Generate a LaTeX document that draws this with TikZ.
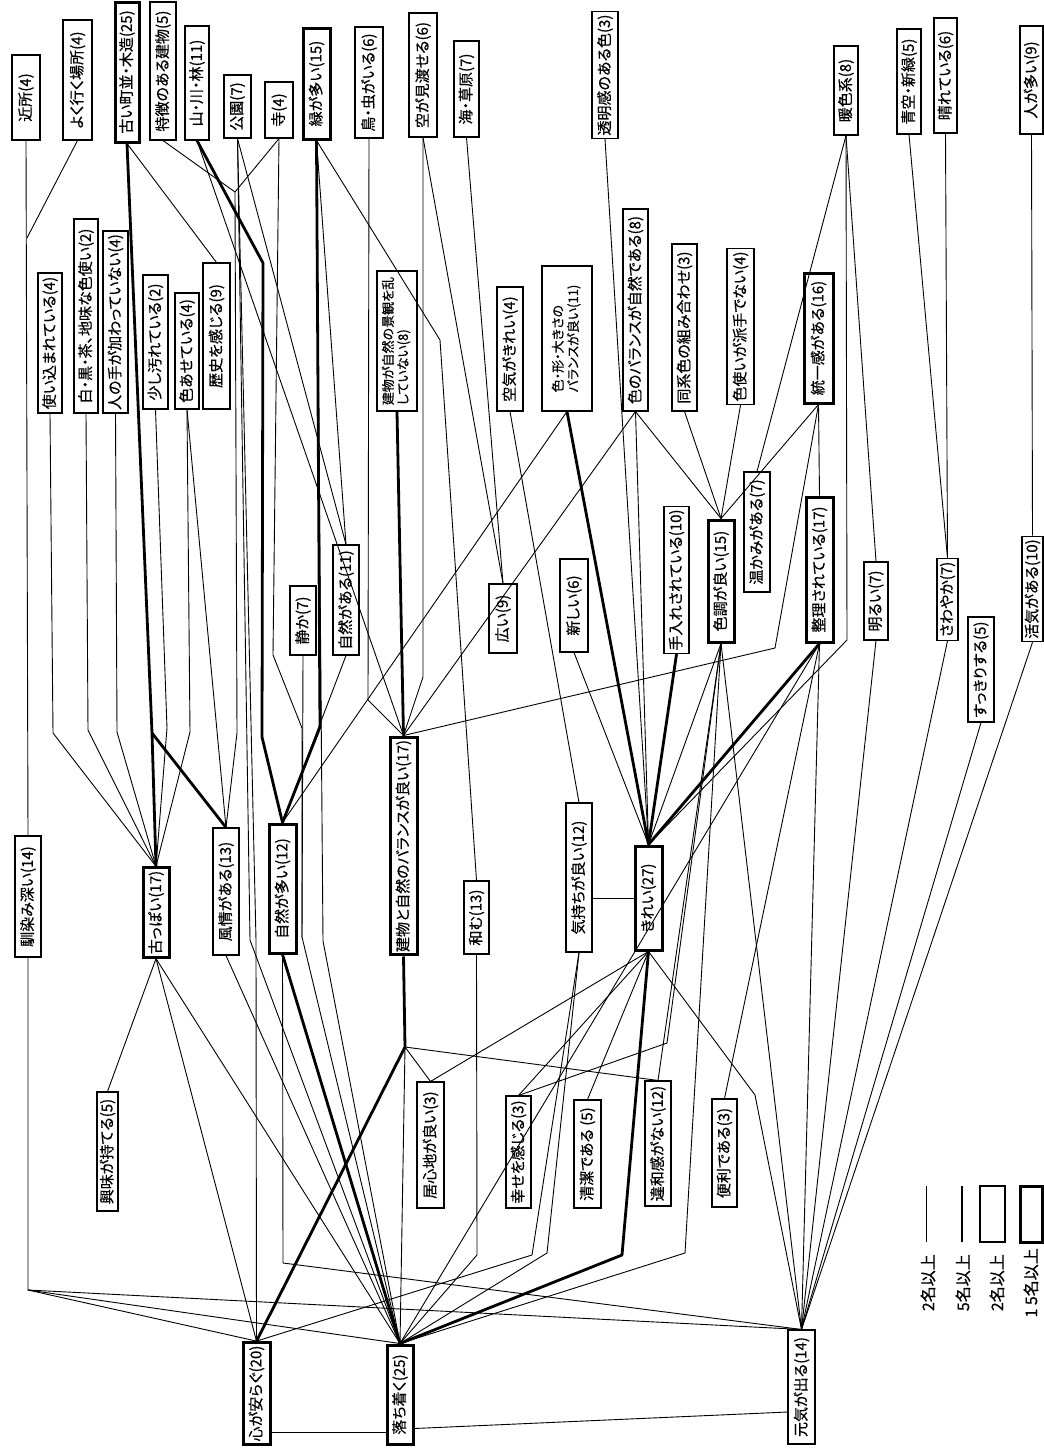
\documentclass[tikz,border=0pt]{standalone}
\usepackage{fontspec}
\usepackage{graphicx}
\newfontfamily\jpf{Noto Sans CJK JP}[RawFeature=+palt, FakeBold=0.5]
\newcommand{\two}[2]{\renewcommand{\arraystretch}{0.95}\begin{tabular}{@{}l@{}}#1\\#2\end{tabular}}
\begin{document}
\begin{tikzpicture}[x=1pt,y=-1pt,
  bx/.style={draw, line width=1.1pt, fill=white, inner xsep=0pt, inner ysep=3pt, font=\jpf\fontsize{15}{17}\selectfont},
  bk/.style={bx, line width=3pt},
  bs/.style={bx, font=\jpf\fontsize{13}{15}\selectfont},
  ln/.style={line width=0.9pt, line join=round},
  tk/.style={line width=2.8pt, line join=round},
  lg/.style={inner sep=0pt, font=\jpf\fontsize{16}{18}\selectfont},
]
\fill[white] (0,0) rectangle (1044,1451);
\useasboundingbox (0,0) rectangle (1044,1451);

% ---------- top row ----------
\node[bx,minimum width=28pt,minimum height=85pt] (kinjo) at (26,97.5) {\rotatebox{90}{近所(4)}};
\node[bx,minimum width=29pt,minimum height=120pt] (yoku) at (77.5,80) {\rotatebox{90}{よく行く場所(4)}};
\node[bk,minimum width=24pt,minimum height=140pt] (machi) at (127,72) {\rotatebox{90}{古い町並・木造(25)}};
\node[bx,minimum width=26pt,minimum height=138pt] (tokucho) at (163,71) {\rotatebox{90}{特徴のある建物(5)}};
\node[bx,minimum width=24pt,minimum height=114pt] (yama) at (197,83) {\rotatebox{90}{山・川・林(11)}};
\node[bx,minimum width=27pt,minimum height=63pt] (koen) at (237.5,106.5) {\rotatebox{90}{公園(7)}};
\node[bx,minimum width=28pt,minimum height=56pt] (tera) at (279,110) {\rotatebox{90}{寺(4)}};
\node[bk,minimum width=27pt,minimum height=111pt] (midori) at (316.5,83.5) {\rotatebox{90}{緑が多い(15)}};
\node[bx,minimum width=28pt,minimum height=111pt] (tori) at (369,82.5) {\rotatebox{90}{鳥・虫がいる(6)}};
\node[bx,minimum width=28pt,minimum height=124pt] (sora) at (423,75) {\rotatebox{90}{空が見渡せる(6)}};
\node[bx,minimum width=25pt,minimum height=96pt] (umi) at (466.5,89) {\rotatebox{90}{海・草原(7)}};
\node[bx,minimum width=26pt,minimum height=124pt] (tomei) at (605,75) {\rotatebox{90}{透明感のある色(3)}};
\node[bx,minimum width=24pt,minimum height=89pt] (danshoku) at (846,90.5) {\rotatebox{90}{暖色系(8)}};
\node[bx,minimum width=24pt,minimum height=105pt] (aozora) at (909,81.5) {\rotatebox{90}{青空・新緑(5)}};
\node[bx,minimum width=23pt,minimum height=115pt] (hare) at (945.5,75.5) {\rotatebox{90}{晴れている(6)}};
\node[bx,minimum width=23pt,minimum height=108pt] (hito) at (1031.5,80) {\rotatebox{90}{人が多い(9)}};

% ---------- second row ----------
\node[bx,minimum width=24pt,minimum height=140pt] (tsukai) at (50,343) {\rotatebox{90}{使い込まれている(4)}};
\node[bx,minimum width=24pt,minimum height=194pt] (shiro) at (86,316) {\rotatebox{90}{白・黒・茶、地味な色使い(2)}};
\node[bx,minimum width=25pt,minimum height=182pt] (hitonote) at (115.5,322) {\rotatebox{90}{人の手が加わっていない(4)}};
\node[bx,minimum width=25pt,minimum height=134pt] (yogore) at (155.5,342) {\rotatebox{90}{少し汚れている(2)}};
\node[bx,minimum width=24pt,minimum height=116pt] (iroase) at (187,351) {\rotatebox{90}{色あせている(4)}};
\node[bx,minimum width=27pt,minimum height=146pt] (rekishi) at (216.5,336) {\rotatebox{90}{歴史を感じる(9)}};
\node[bs,minimum width=40pt,minimum height=140pt] (midasanai) at (397,341) {\rotatebox{90}{\two{建物が自然の景観を乱}{していない(8)}}};
\node[bx,minimum width=26pt,minimum height=124pt] (kuki) at (510,349) {\rotatebox{90}{空気がきれい(4)}};
\node[bs,minimum width=50pt,minimum height=145pt] (irokatachi) at (567,338.5) {\rotatebox{90}{\two{色・形・大きさの}{バランスが良い(11)}}};
\node[bx,minimum width=25pt,minimum height=202pt] (irobalance) at (635.5,310) {\rotatebox{90}{色のバランスが自然である(8)}};
\node[bx,minimum width=25pt,minimum height=167pt] (doukei) at (684.5,327.5) {\rotatebox{90}{同系色の組み合わせ(3)}};
\node[bx,minimum width=27pt,minimum height=153pt] (hade) at (740.5,326.5) {\rotatebox{90}{色使いが派手でない(4)}};
\node[bk,minimum width=29pt,minimum height=130pt] (touitsu) at (818.5,338) {\rotatebox{90}{統一感がある(16)}};

% ---------- third row ----------
\node[bx,minimum width=26pt,minimum height=69pt] (shizuka) at (303,620.5) {\rotatebox{90}{静か(7)}};
\node[bx,minimum width=26pt,minimum height=110pt] (shizengaaru) at (346,600) {\rotatebox{90}{自然がある(11)}};
\node[bx,minimum width=28pt,minimum height=69pt] (hiroi) at (503,618.5) {\rotatebox{90}{広い(9)}};
\node[bx,minimum width=28pt,minimum height=93pt] (atarashii) at (574,605.5) {\rotatebox{90}{新しい(6)}};
\node[bx,minimum width=25pt,minimum height=144pt] (teire) at (676.5,580) {\rotatebox{90}{手入れされている(10)}};
\node[bk,minimum width=26pt,minimum height=122pt] (shikicho) at (721,581) {\rotatebox{90}{色調が良い(15)}};
\node[bx,minimum width=26pt,minimum height=120pt] (atatakami) at (757,532) {\rotatebox{90}{温かみがある(7)}};
\node[bk,minimum width=27pt,minimum height=145pt] (seiri) at (819.5,569.5) {\rotatebox{90}{整理されている(17)}};
\node[bx,minimum width=24pt,minimum height=78pt] (akarui) at (876,601) {\rotatebox{90}{明るい(7)}};
\node[bx,minimum width=21pt,minimum height=81pt] (sawayaka) at (947.5,599.5) {\rotatebox{90}{さわやか(7)}};
\node[bx,minimum width=26pt,minimum height=105pt] (sukkiri) at (981,669.5) {\rotatebox{90}{すっきりする(5)}};
\node[bx,minimum width=21pt,minimum height=100pt] (kakki) at (1032.5,589) {\rotatebox{90}{活気がある(10)}};

% ---------- fourth row ----------
\node[bx,minimum width=26pt,minimum height=121pt] (najimi) at (28,896.5) {\rotatebox{90}{馴染み深い(14)}};
\node[bk,minimum width=26pt,minimum height=89pt] (furuppoi) at (156,912.5) {\rotatebox{90}{古っぽい(17)}};
\node[bx,minimum width=26pt,minimum height=127pt] (fuzei) at (226,891.5) {\rotatebox{90}{風情がある(13)}};
\node[bk,minimum width=27pt,minimum height=129pt] (shizengaooi) at (282.5,888.5) {\rotatebox{90}{自然が多い(12)}};
\node[bk,minimum width=27pt,minimum height=216pt] (balance) at (403.5,846) {\rotatebox{90}{建物と自然のバランスが良い(17)}};
\node[bx,minimum width=25pt,minimum height=73pt] (nagomu) at (476.5,917.5) {\rotatebox{90}{和む(13)}};
\node[bx,minimum width=26pt,minimum height=149pt] (kimochi) at (579,877.5) {\rotatebox{90}{気持ちが良い(12)}};
\node[bk,minimum width=27pt,minimum height=104pt] (kirei) at (648.5,898) {\rotatebox{90}{きれい(27)}};

% ---------- fifth row ----------
\node[bx,minimum width=21pt,minimum height=119pt] (kyomi) at (107.5,1151.5) {\rotatebox{90}{興味が持てる(5)}};
\node[bx,minimum width=27pt,minimum height=126pt] (igokochi) at (430.5,1145) {\rotatebox{90}{居心地が良い(3)}};
\node[bx,minimum width=25pt,minimum height=112pt] (shiawase) at (518.5,1152) {\rotatebox{90}{幸せを感じる(3)}};
\node[bx,minimum width=27pt,minimum height=108pt] (seiketsu) at (587.5,1154) {\rotatebox{90}{清潔である (5)}};
\node[bx,minimum width=26pt,minimum height=125pt] (iwakan) at (658,1143.5) {\rotatebox{90}{違和感がない(12)}};
\node[bx,minimum width=25pt,minimum height=108pt] (benri) at (724.5,1153) {\rotatebox{90}{便利である(3)}};

% ---------- bottom row ----------
\node[bk,minimum width=27pt,minimum height=101pt] (kokoro) at (256.5,1393.5) {\rotatebox{90}{心が安らぐ(20)}};
\node[bk,minimum width=26pt,minimum height=99pt] (ochitsuku) at (400,1394.5) {\rotatebox{90}{落ち着く(25)}};
\node[bx,minimum width=27pt,minimum height=114pt] (genki) at (801.5,1387) {\rotatebox{90}{元気が出る(14)}};

% ---------- junctions ----------
\coordinate (j0) at (27,238);
\coordinate (j1) at (28,1290);
\coordinate (j2) at (235,192);
\coordinate (j3) at (405,1047);

% ---------- connectors ----------
\draw[ln] (kinjo.south) -- (najimi.north);
\draw[ln] (yoku.south) -- (j0);
\draw[ln] (najimi.south) -- (j1) -- (kokoro.north);
\draw[ln] (j1) -- (ochitsuku.north);
\draw[ln] (j1) -- (genki.north);

\draw[ln] (tsukai.south) -- (53,733) -- (furuppoi.north);
\draw[ln] (shiro.south) -- (88,730) -- (furuppoi.north);
\draw[ln] (hitonote.south) -- (117,732) -- (furuppoi.north);
\draw[tk] (machi.south) -- (152,733) -- (furuppoi.north);
\draw[tk] (152,733) -- (fuzei.north);
\draw[ln] (machi.south) -- (rekishi.north);
\draw[ln] (yogore.south) -- (167,728) -- (furuppoi.north);
\draw[ln] (iroase.south) -- (190,732) -- (furuppoi.north);
\draw[ln] (iroase.south) -- (fuzei.north);
\draw[ln] (tokucho.south) -- (j2);
\draw[ln] (tera.south) -- (j2);
\draw[ln] (j2) -- (237,733) -- (fuzei.north);
\draw[ln] (koen.south) -- (shizengaaru.north);
\draw[ln] (koen.south) -- (256,940) -- (kokoro.north);
\draw[ln] (koen.south) -- (250,940) -- (ochitsuku.north);
\draw[tk] (yama.south) -- (263,263) -- (262,737) -- (shizengaooi.north);
\draw[ln] (yama.south) -- (balance.north);
\draw[ln] (tera.south) -- (273,655) -- (302,728) -- (302,937) -- (ochitsuku.north);
\draw[ln] (shizuka.south) -- (302,937);
\draw[tk] (midori.south) -- (320,727) -- (shizengaooi.north);
\draw[ln] (midori.south) -- (323,941) -- (ochitsuku.north);
\draw[ln] (midori.south) -- (shizengaaru.north);
\draw[ln] (midori.south) -- (440,340) -- (nagomu.north);
\draw[ln] (shizengaaru.south) -- (shizengaooi.north);

\draw[tk] (midasanai.south) -- (balance.north);
\draw[ln] (tori.south) -- (368,700) -- (balance.north);
\draw[ln] (sora.south) -- (423,677) -- (balance.north);
\draw[ln] (sora.south) -- (hiroi.north);
\draw[ln] (umi.south) -- (hiroi.north);
\draw[ln] (irobalance.south) -- (balance.north);
\draw[ln] (irokatachi.south) -- (shizengaooi.north);
\draw[ln] (touitsu.south) -- (775,648) -- (balance.north);

\draw[tk] (balance.south) -- (j3) -- (kokoro.north);
\draw[ln] (j3) -- (ochitsuku.north);
\draw[ln] (j3) -- (igokochi.north);
\draw[ln] (j3) -- (iwakan.north);

\draw[ln] (nagomu.south) -- (477,1255) -- (ochitsuku.north);
\draw[ln] (kuki.south) -- (kimochi.north);
\draw[ln] (kimochi.south) -- (547,1253) -- (ochitsuku.north);
\draw[ln] (kimochi.south) -- (532,1255) -- (kokoro.north);
\draw[ln] (kimochi.east |- kirei.west) -- (kirei.west);

\draw[ln] (atarashii.south) -- (kirei.north);
\draw[tk] (teire.south) -- (kirei.north);
\draw[tk] (irokatachi.south) -- (kirei.north);
\draw[ln] (irobalance.south) -- (kirei.north);
\draw[ln] (tomei.south) -- (kirei.north);
\draw[ln] (shikicho.south) -- (kirei.north);
\draw[tk] (seiri.south) -- (kirei.north);
\draw[ln] (danshoku.south) -- (847,640) -- (kirei.north);

\draw[ln] (kirei.south) -- (igokochi.north);
\draw[ln] (kirei.south) -- (shiawase.north);
\draw[ln] (kirei.south) -- (seiketsu.north);
\draw[tk] (kirei.south) -- (622,1255) -- (ochitsuku.north);
\draw[ln] (kirei.south) -- (755,1095) -- (genki.north);

\draw[ln] (irobalance.south) -- (shikicho.north);
\draw[ln] (doukei.south) -- (shikicho.north);
\draw[ln] (hade.south) -- (shikicho.north);
\draw[ln] (touitsu.south) -- (shikicho.north);
\draw[ln] (touitsu.south) -- (seiri.north);
\draw[ln] (danshoku.south) -- (atatakami.north);
\draw[ln] (danshoku.south) -- (akarui.north);

\draw[ln] (shikicho.south) -- (iwakan.north);
\draw[ln] (shikicho.south) -- (667,1043) -- (shiawase.north);
\draw[ln] (shikicho.south) -- (685,1253) -- (ochitsuku.north);
\draw[ln] (shikicho.south) -- (genki.north);

\draw[ln] (seiri.south) -- (ochitsuku.north);
\draw[ln] (seiri.south) -- (benri.north);
\draw[ln] (seiri.south) -- (genki.north);

\draw[ln] (akarui.south) -- (genki.north);
\draw[ln] (sawayaka.south) -- (genki.north);
\draw[ln] (sukkiri.south) -- (genki.north);
\draw[ln] (kakki.south) -- (genki.north);
\draw[ln] (aozora.south) -- (sawayaka.north);
\draw[ln] (hare.south) -- (sawayaka.north);
\draw[ln] (hito.south) -- (kakki.north);
\draw[ln] (shizengaooi.south) -- (283,1263) -- (genki.north);
\draw[tk] (shizengaooi.south) -- (ochitsuku.north);

\draw[ln] (furuppoi.south) -- (kyomi.north);
\draw[ln] (furuppoi.south) -- (kokoro.north);
\draw[ln] (furuppoi.south) -- (ochitsuku.north);
\draw[ln] (fuzei.south) -- (ochitsuku.north);

\draw[ln] ([yshift=-38.5pt]kokoro.east) -- ([yshift=-37.5pt]ochitsuku.west);
\draw[ln] ([yshift=-34pt]ochitsuku.east) -- ([yshift=-25pt]genki.west);

% ---------- legend ----------
\draw[ln] (926,1186) -- (926,1242);
\draw[tk] (962,1186) -- (962,1242);
\draw[line width=1.1pt] (980,1186) rectangle (1005,1242);
\draw[line width=3pt] (1020,1186) rectangle (1042,1242);
\node[lg,anchor=north] (lg1) at (928,1254) {\rotatebox{90}{2名以上}};
\node[lg,anchor=north] (lg2) at (963,1254) {\rotatebox{90}{5名以上}};
\node[lg,anchor=north] (lg3) at (997,1254) {\rotatebox{90}{2名以上}};
\node[lg,anchor=north] (lg4) at (1031,1248) {\rotatebox{90}{1 5名以上}};
\end{tikzpicture}
\end{document}
